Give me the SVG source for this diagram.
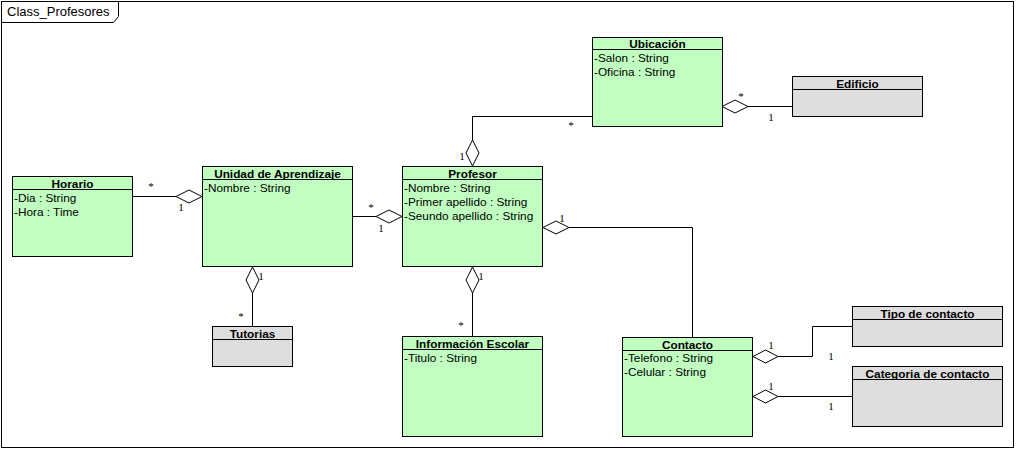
<svg xmlns="http://www.w3.org/2000/svg" width="1016" height="450" viewBox="0 0 1016 450">
<style>
.bg{fill:#fff}
.frame{fill:none;stroke:#000;stroke-width:1}
.g{fill:#c1ffc1;stroke:#000;stroke-width:1}
.x{fill:#dedede;stroke:#000;stroke-width:1}
.sep{stroke:#000;stroke-width:1}
.t{font-family:"Liberation Sans",Arial,sans-serif;font-size:11.8px;font-weight:bold;text-anchor:middle;fill:#000}
.a{font-family:"Liberation Sans",Arial,sans-serif;font-size:11.8px;fill:#000}
.ft{font-family:"Liberation Sans",Arial,sans-serif;font-size:13px;fill:#000}
.m{font-family:"Liberation Serif","Times New Roman",serif;font-size:11px;fill:#000;text-anchor:middle}
.c{fill:none;stroke:#000;stroke-width:1}
.d{fill:#fff;stroke:#000;stroke-width:1}
</style>
<rect class="bg" x="0" y="0" width="1016" height="450"/>
<rect class="frame" x="1.5" y="1.5" width="1012" height="446"/>
<path class="frame" d="M1.5 22.5 H113.5 L118.5 16.5 V1.5"/>
<text class="ft" x="7" y="16">Class_Profesores</text>

<g id="connectors">
  <!-- Horario - Unidad -->
  <line class="c" x1="133" y1="196.5" x2="176" y2="196.5"/>
  <polygon class="d" points="202,196.5 189,190 176,196.5 189,203"/>
  <text class="m" x="151" y="190">*</text>
  <text class="m" x="181" y="211">1</text>
  <!-- Unidad - Profesor -->
  <line class="c" x1="353" y1="216.5" x2="376" y2="216.5"/>
  <polygon class="d" points="402,216.5 389,210 376,216.5 389,223"/>
  <text class="m" x="371" y="211">*</text>
  <text class="m" x="381" y="232">1</text>
  <!-- Profesor - Contacto -->
  <polyline class="c" points="569,227.5 692.5,227.5 692.5,337"/>
  <polygon class="d" points="543,227.5 556,221 569,227.5 556,234"/>
  <text class="m" x="562" y="222">1</text>
  <!-- Ubicacion - Profesor -->
  <polyline class="c" points="472.5,140 472.5,116.5 593,116.5"/>
  <polygon class="d" points="472.5,166 466,153 472.5,140 479,153"/>
  <text class="m" x="571" y="129">*</text>
  <text class="m" x="462" y="160">1</text>
  <!-- Ubicacion - Edificio -->
  <line class="c" x1="748" y1="106.5" x2="792" y2="106.5"/>
  <polygon class="d" points="722,106.5 735,100 748,106.5 735,113"/>
  <text class="m" x="741" y="100">*</text>
  <text class="m" x="771" y="121">1</text>
  <!-- Unidad - Tutorias -->
  <line class="c" x1="252.5" y1="293" x2="252.5" y2="326"/>
  <polygon class="d" points="252.5,267 259,280 252.5,293 246,280"/>
  <text class="m" x="261" y="280">1</text>
  <text class="m" x="241" y="320">*</text>
  <!-- Profesor - Info -->
  <line class="c" x1="472.5" y1="293" x2="472.5" y2="336"/>
  <polygon class="d" points="472.5,267 479,280 472.5,293 466,280"/>
  <text class="m" x="481" y="280">1</text>
  <text class="m" x="461" y="329">*</text>
  <!-- Contacto - Tipo -->
  <polyline class="c" points="778,356.5 812.5,356.5 812.5,326.5 852,326.5"/>
  <polygon class="d" points="753,356.5 765.5,350 778,356.5 765.5,363"/>
  <text class="m" x="771" y="349">1</text>
  <text class="m" x="831" y="360">1</text>
  <!-- Contacto - Categoria -->
  <line class="c" x1="778" y1="396.5" x2="852" y2="396.5"/>
  <polygon class="d" points="753,396.5 765.5,390 778,396.5 765.5,403"/>
  <text class="m" x="771" y="390">1</text>
  <text class="m" x="831" y="410">1</text>
</g>

<g id="ubicacion">
  <rect class="g" x="592.5" y="37.5" width="130" height="89"/>
  <line class="sep" x1="592.5" y1="49.5" x2="722.5" y2="49.5"/>
  <text class="t" x="657.5" y="47.5">Ubicación</text>
  <text class="a" x="594" y="62">-Salon : String</text>
  <text class="a" x="594" y="76">-Oficina : String</text>
</g>
<g id="edificio">
  <rect class="x" x="792.5" y="76.5" width="130" height="40"/>
  <line class="sep" x1="792.5" y1="89.5" x2="922.5" y2="89.5"/>
  <text class="t" x="857.5" y="87.5">Edificio</text>
</g>
<g id="horario">
  <rect class="g" x="12.5" y="176.5" width="120" height="80"/>
  <line class="sep" x1="12.5" y1="189.5" x2="132.5" y2="189.5"/>
  <text class="t" x="72.5" y="187.5">Horario</text>
  <text class="a" x="14" y="202">-Dia : String</text>
  <text class="a" x="14" y="216">-Hora : Time</text>
</g>
<g id="unidad">
  <rect class="g" x="202.5" y="166.5" width="150" height="100"/>
  <line class="sep" x1="202.5" y1="179.5" x2="352.5" y2="179.5"/>
  <text class="t" x="277.5" y="177.5">Unidad de Aprendizaje</text>
  <text class="a" x="204" y="192">-Nombre : String</text>
</g>
<g id="profesor">
  <rect class="g" x="402.5" y="166.5" width="140" height="100"/>
  <line class="sep" x1="402.5" y1="179.5" x2="542.5" y2="179.5"/>
  <text class="t" x="472.5" y="177.5">Profesor</text>
  <text class="a" x="404" y="192">-Nombre : String</text>
  <text class="a" x="404" y="206">-Primer apellido : String</text>
  <text class="a" x="404" y="220">-Seundo apellido : String</text>
</g>
<g id="tutorias">
  <rect class="x" x="212.5" y="326.5" width="80" height="40"/>
  <line class="sep" x1="212.5" y1="339.5" x2="292.5" y2="339.5"/>
  <text class="t" x="252.5" y="337.5">Tutorias</text>
</g>
<g id="informacion">
  <rect class="g" x="402.5" y="336.5" width="140" height="100"/>
  <line class="sep" x1="402.5" y1="349.5" x2="542.5" y2="349.5"/>
  <text class="t" x="472.5" y="347.5">Información Escolar</text>
  <text class="a" x="404" y="362">-Titulo : String</text>
</g>
<g id="contacto">
  <rect class="g" x="622.5" y="337.5" width="130" height="99"/>
  <line class="sep" x1="622.5" y1="350.5" x2="752.5" y2="350.5"/>
  <text class="t" x="687.5" y="348.5">Contacto</text>
  <text class="a" x="624" y="362">-Telefono : String</text>
  <text class="a" x="624" y="376">-Celular : String</text>
</g>
<g id="tipo">
  <rect class="x" x="852.5" y="306.5" width="150" height="40"/>
  <line class="sep" x1="852.5" y1="319.5" x2="1002.5" y2="319.5"/>
  <text class="t" x="927.5" y="317.5">Tipo de contacto</text>
</g>
<g id="categoria">
  <rect class="x" x="852.5" y="366.5" width="150" height="60"/>
  <line class="sep" x1="852.5" y1="379.5" x2="1002.5" y2="379.5"/>
  <text class="t" x="927.5" y="377.5">Categoria de contacto</text>
</g>
</svg>
